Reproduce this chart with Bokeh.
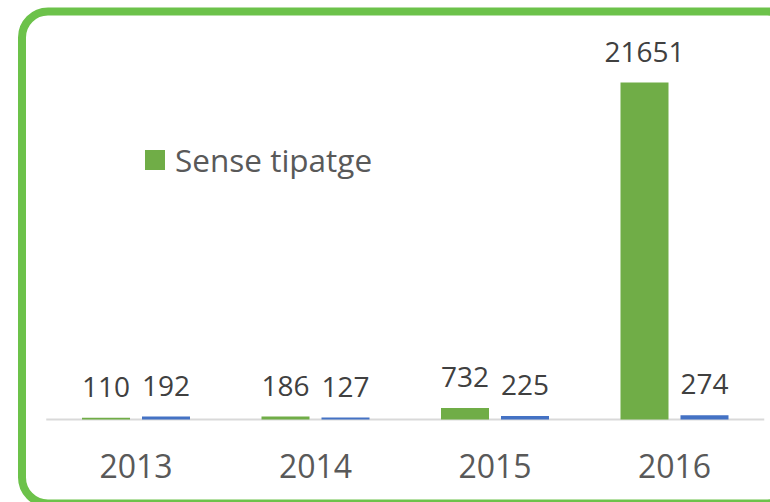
from bokeh.plotting import figure
from bokeh.models import ColumnDataSource, BoxAnnotation, Legend, LegendItem, Range1d
from bokeh.core.properties import value
from bokeh.embed import file_html
from bokeh.resources import INLINE

years = [2013, 2014, 2015, 2016]
year_labels = ["2013", "2014", "2015", "2016"]
sense_tipatge = [110, 186, 732, 21651]
altres = [192, 127, 225, 274]
legend_label = "Sense tipatge"

GREEN = "#70ad47"
BLUE = "#4472c4"
FRAME = "#6cc24a"
FONT = "Open Sans"

off = 30 / 179.5     # half distance between the two bars of a year
w = 48 / 179.5       # bar width

src = ColumnDataSource(dict(
    xg=[y - off for y in years],
    xb=[y + off for y in years],
    x=years,
    zero=[0] * len(years),
    g=sense_tipatge,
    b=altres,
    gl=[str(v) for v in sense_tipatge],
    bl=[str(v) for v in altres],
    yl=year_labels,
))

x0 = years[0] - 135.5 / 179.5
p = figure(width=770, height=502,
           x_range=Range1d(x0, x0 + 770 / 179.5),
           y_range=Range1d(-83 * 21651 / 337, 419 * 21651 / 337),
           output_backend="svg", toolbar_location=None,
           x_axis_location=None, y_axis_location=None, min_border=0)
p.outline_line_color = None
p.grid.visible = False
p.background_fill_color = "white"
p.border_fill_color = "white"

# category axis baseline
p.segment(x0=years[0] - 0.5, x1=years[-1] + 0.5, y0=0, y1=0,
          line_color="#d9d9d9", line_width=2)

rg = p.vbar(x="xg", top="g", width=w, source=src, fill_color=GREEN, line_color=None)
rb = p.vbar(x="xb", top="b", width=w, source=src, fill_color=BLUE, line_color=None)

p.text(x="xg", y="g", text="gl", source=src,
       text_font=value(FONT), text_font_size="28px", text_color="#404040",
       text_align="center", text_baseline="alphabetic", y_offset=-31)
p.text(x="xb", y="b", text="bl", source=src,
       text_font=value(FONT), text_font_size="28px", text_color="#404040",
       text_align="center", text_baseline="alphabetic", y_offset=-31)

# category (year) labels
p.text(x="x", y="zero", text="yl", source=src,
       text_font=value(FONT), text_font_size="32px", text_color="#595959",
       text_align="center", text_baseline="alphabetic", y_offset=46)

legend = Legend(items=[LegendItem(label=legend_label, renderers=[rg])],
                location=(142, 321), padding=0, margin=0, spacing=0,
                glyph_width=25, glyph_height=25, label_standoff=8,
                label_text_font=FONT, label_text_font_size="31.5px",
                label_text_color="#595959", border_line_color=None,
                background_fill_alpha=0)
p.add_layout(legend)

frame = BoxAnnotation(left=21.5, right=793, top=11, bottom=503,
                      left_units="canvas", right_units="canvas",
                      top_units="canvas", bottom_units="canvas",
                      fill_alpha=0, line_color=FRAME, line_alpha=1, line_width=8,
                      border_radius=26, level="overlay")
p.add_layout(frame)

open("out.html", "w").write(file_html(p, INLINE))
